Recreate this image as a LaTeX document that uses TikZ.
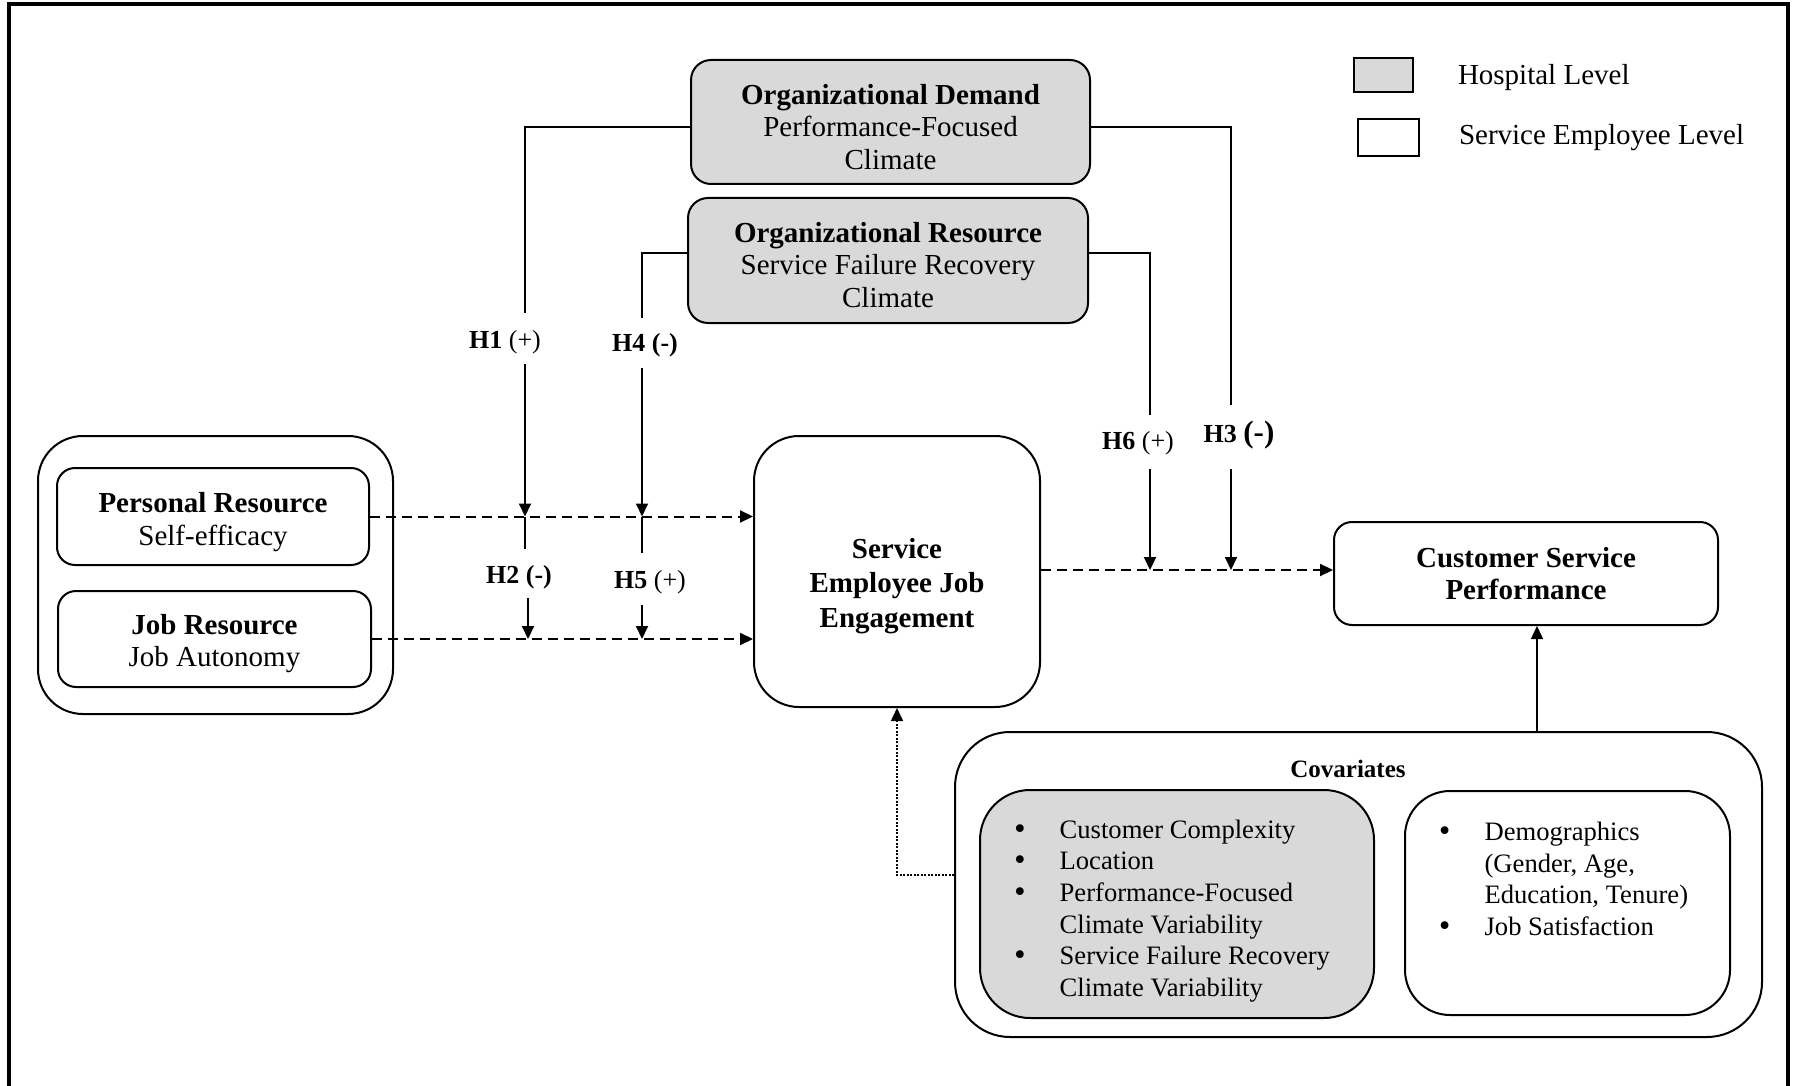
\documentclass[tikz,border=0pt]{standalone}
\usepackage{fontspec}
\setmainfont{Liberation Serif}
\newfontfamily\bulletfont{DejaVu Sans}
\usetikzlibrary{arrows.meta}
\tikzset{>={Triangle[length=13pt,width=12pt]}}
\newcommand{\bigbullet}{{\bulletfont •}}

\begin{document}
\begin{tikzpicture}[x=1pt, y=-1pt, line width=2pt,
roundnode/.style={rectangle, draw=black},
hospitalnode/.style={roundnode, fill=gray!30},
boxtext/.style={align=center, inner sep=0pt, font=\fontsize{29}{32.5}\selectfont},
hyplabel/.style={inner sep=0pt, font=\fontsize{26}{30}\selectfont},
keytext/.style={anchor=west, inner sep=0pt, font=\fontsize{29}{32.5}\selectfont},
listtext/.style={align=left, inner sep=0pt, font=\fontsize{26.6}{31.6}\selectfont},
dashedline/.style={dash pattern=on 10pt off 6pt},
dottedline/.style={line width=1.6pt, dash pattern=on 2pt off 1.5pt},
]
\useasboundingbox (0,0) rectangle (1796,1086);
\draw[line width=3.5pt] (9,1086) -- (9,4) -- (1788,4) -- (1788,1086);

%Nodes
\node[hospitalnode, minimum width=399pt, minimum height=124pt, rounded corners=20pt](OrgDemand) at (890.5,122) {};
\node[boxtext](OrgDemandText) at (890.5,127) {\textbf{Organizational Demand}\\Performance-Focused\\Climate};
\node[hospitalnode, minimum width=400pt, minimum height=125pt, rounded corners=20pt](OrgResource) at (888,260.5) {};
\node[boxtext](OrgResourceText) at (888,265) {\textbf{Organizational Resource}\\Service Failure Recovery\\Climate};

\node[rectangle, draw=black, fill=gray!30, minimum width=59pt, minimum height=34pt](HospitalKey) at (1383.5,75) {};
\node[rectangle, draw=black, minimum width=61pt, minimum height=37pt](EmployeeKey) at (1388.5,137.5) {};
\node[keytext](HospitalText) at (1457,77.5) {Hospital Level};
\node[keytext](EmployeeText) at (1458,137.5) {Service Employee Level};

\node[roundnode, minimum width=355pt, minimum height=278pt, rounded corners=45pt](Antecedents) at (215.5,575) {};
\node[roundnode, minimum width=312pt, minimum height=97pt, rounded corners=18pt](PersonalResource) at (213,516.5) {};
\node[boxtext](PersonalText) at (213,522) {\textbf{Personal Resource}\\Self-efficacy};
\node[roundnode, minimum width=313pt, minimum height=96pt, rounded corners=18pt](JobResource) at (214.5,639) {};
\node[boxtext](JobText) at (214.5,643.5) {\textbf{Job Resource}\\Job Autonomy};

\node[roundnode, minimum width=286pt, minimum height=271pt, rounded corners=45pt](Engagement) at (897,571.5) {};
\node[boxtext, font=\bfseries\fontsize{29}{34.4}\selectfont](EngagementText) at (897,586) {Service\\Employee Job\\Engagement};
\node[roundnode, boxtext, inner sep=3pt, minimum width=384pt, minimum height=103pt, rounded corners=18pt](Performance) at (1526,573.5) {\textbf{Customer Service}\\\textbf{Performance}};

\node[roundnode, minimum width=807pt, minimum height=305pt, rounded corners=55pt](Covariates) at (1358.5,884.5) {};
\node[font=\bfseries\fontsize{25}{30}\selectfont](CovLabel) at (1348,769) {Covariates};
\node[hospitalnode, minimum width=394pt, minimum height=228pt, rounded corners=50pt](HospitalCov) at (1177,904) {};
\node[listtext](HospitalCovText) at (1171,911) {%
\begin{tabular}{@{}l@{\hspace{32pt}}l@{}}
\bigbullet & Customer Complexity\\
\bigbullet & Location\\
\bigbullet & Performance-Focused\\
 & Climate Variability\\
\bigbullet & Service Failure Recovery\\
 & Climate Variability
\end{tabular}};
\node[roundnode, minimum width=325pt, minimum height=224pt, rounded corners=45pt](EmployeeCov) at (1567.5,903) {};
\node[listtext](EmployeeCovText) at (1562.5,906) {%
\begin{tabular}{@{}l@{\hspace{32pt}}l@{}}
\bigbullet & Demographics\\
 & (Gender, Age,\\
 & Education, Tenure)\\
\bigbullet & Job Satisfaction\\[49pt]
\end{tabular}};

%Hypotheses
\node[hyplabel](H1) at (505,342) {\textbf{H1} (+)};
\node[hyplabel](H4) at (645,345) {\textbf{H4 (-)}};
\node[hyplabel](H2) at (519,577) {\textbf{H2 (-)}};
\node[hyplabel](H5) at (650,582) {\textbf{H5} (+)};
\node[hyplabel](H6) at (1138,443) {\textbf{H6} (+)};
\node[hyplabel](H3) at (1239,435) {\textbf{H3 {\fontsize{31}{34}\selectfont(-)}}};

\coordinate (a1) at (525,313); \coordinate (b1) at (525,364);
\coordinate (c1) at (525,549); \coordinate (d1) at (528,598);
\coordinate (a4) at (642,318); \coordinate (b4) at (642,368);
\coordinate (c4) at (642,553); \coordinate (d4) at (642,605);
\coordinate (a6) at (1150,415); \coordinate (b6) at (1150,469);
\coordinate (a3) at (1231,405); \coordinate (b3) at (1231,469);
\coordinate (cov) at (1537,732);

%Connectors
\draw[dashedline,->] (PersonalResource.east) -- (PersonalResource.east -| Engagement.west);
\draw[dashedline,->] (JobResource.east) -- (JobResource.east -| Engagement.west);
\draw[dashedline,->] ([yshift=1.5pt]Engagement.east) -- ([yshift=1.5pt]Engagement.east -| Performance.west);

\draw ([yshift=-5pt]OrgDemand.west) -| (a1);
\draw[->] (b1) -- (b1 |- PersonalResource.east);
\draw (b1 |- PersonalResource.east) -- (c1);
\draw[->] (d1) -- (d1 |- JobResource.east);

\draw ([yshift=7.5pt]OrgResource.west) -| (a4);
\draw[->] (b4) -- (b4 |- PersonalResource.east);
\draw (b4 |- PersonalResource.east) -- (c4);
\draw[->] (d4) -- (d4 |- JobResource.east);

\draw ([yshift=7.5pt]OrgResource.east) -| (a6);
\draw[->] (b6) -- ([yshift=1.5pt]b6 |- Engagement.east);
\draw ([yshift=-5pt]OrgDemand.east) -| (a3);
\draw[->] (b3) -- ([yshift=1.5pt]b3 |- Engagement.east);

\draw[line width=1.4pt,->] (cov) -- (cov |- Performance.south);
\draw[dottedline,->] ([yshift=9.5pt]Covariates.west) -| (Engagement.south);
\end{tikzpicture}
\end{document}
